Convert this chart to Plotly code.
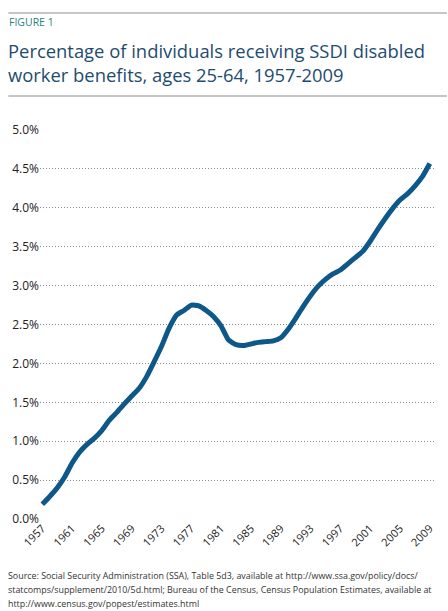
import plotly.graph_objects as go

years = list(range(1957, 2010))
pct = [0.19, 0.29, 0.40, 0.54, 0.72, 0.86, 0.96, 1.04, 1.14, 1.27,
       1.37, 1.48, 1.58, 1.68, 1.83, 2.02, 2.22, 2.45, 2.62, 2.68,
       2.75, 2.74, 2.68, 2.60, 2.48, 2.30, 2.24, 2.23, 2.25, 2.27,
       2.28, 2.29, 2.33, 2.44, 2.58, 2.73, 2.87, 2.99, 3.08, 3.15,
       3.20, 3.28, 3.36, 3.44, 3.57, 3.72, 3.86, 3.99, 4.10, 4.18,
       4.28, 4.40, 4.57]
tick_years = list(range(1957, 2010, 4))
tick_labels = [str(y) for y in tick_years]
y_ticks = [0, 0.5, 1.0, 1.5, 2.0, 2.5, 3.0, 3.5, 4.0, 4.5, 5.0]

W, H = 448, 611
PT, PB = 130, 519  # plot top / bottom pixel
def py(Y):
    return (PB - Y) / (PB - PT)
PL, PR = 37, 436
def px(X):
    return (X - PL) / (PR - PL)

fig = go.Figure()
fig.add_trace(go.Scatter(x=years, y=pct, mode="lines",
                         line=dict(color="#0d5789", width=5, shape="spline", smoothing=0.5),
                         hoverinfo="skip", showlegend=False))

font = "Open Sans"
fig.update_layout(
    width=W, height=H,
    margin=dict(l=PL, r=W - PR, t=PT, b=H - PB, pad=0),
    paper_bgcolor="white", plot_bgcolor="white",
    font=dict(family=font, color="#222222"),
    xaxis=dict(range=[1956.69, 2009.70], tickmode="array", tickvals=tick_years,
               ticktext=tick_labels, tickangle=-45, showgrid=False, zeroline=False,
               showline=False, ticks="", tickfont=dict(size=11, color="#222222")),
    yaxis=dict(range=[0, 5.0], tickmode="array", tickvals=y_ticks,
               ticktext=[f"{v:.1f}%" for v in y_ticks], showgrid=True,
               gridcolor="#8a8a8a", gridwidth=1, griddash="1px,2px", zeroline=False,
               showline=False, ticks="", tickfont=dict(size=12, color="#222222")),
)

shapes = []
for Y in (13, 96):
    shapes.append(dict(type="line", xref="paper", yref="paper",
                       x0=px(5), x1=px(448), y0=py(Y), y1=py(Y),
                       line=dict(color="#8c8c8c", width=1)))
fig.update_layout(shapes=shapes)

ann = []
def text(t, X, Y, size, color):
    ann.append(dict(text=t, xref="paper", yref="paper", x=px(X), y=py(Y),
                    xanchor="left", yanchor="middle", align="left", showarrow=False,
                    font=dict(family=font, size=size, color=color)))

text("FIGURE 1", 4, 22, 10.5, "#2b7f80")
text("Percentage of individuals receiving SSDI disabled<br>worker benefits, ages 25-64, 1957-2009",
     3, 62, 18.4, "#1e4c6e")
text("Source: Social Security Administration (SSA), Table 5d3, available at http://www.ssa.gov/policy/docs/", 3, 575, 8.9, "#333333")
text("statcomps/supplement/2010/5d.html; Bureau of the Census, Census Population Estimates, available at", 3, 589, 8.9, "#333333")
text("http://www.census.gov/popest/estimates.html", 3, 603, 8.9, "#333333")
fig.update_layout(annotations=ann)

fig.write_html("out.html", config={"displayModeBar": False},
               post_script="document.body.style.margin='0';document.body.style.padding='0';")
